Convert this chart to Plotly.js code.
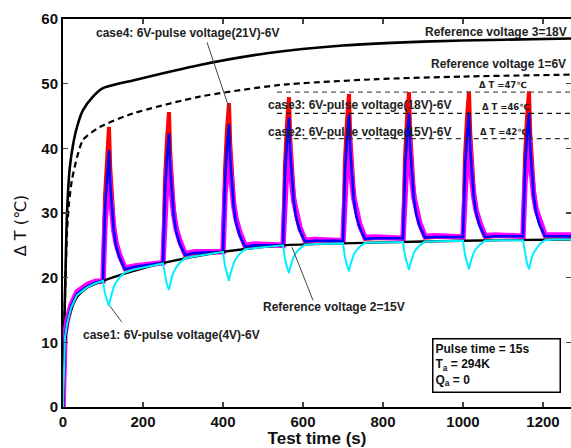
<!DOCTYPE html>
<html>
<head>
<meta charset="utf-8">
<script src="https://cdn.plot.ly/plotly-3.0.1.min.js"></script>
<style>html,body{margin:0;padding:0;background:#fff;}#chart{width:571px;height:448px;}</style>
</head>
<body>
<div id="chart"></div>
<script>
// Time axis (s) for the pulsed cases
var pulseTime = [0,2,5,10,20,35,60,80,
  100,105,110,115,118,122,127,133,142,155,180,
  250,255,260,265,268,272,277,283,292,305,330,
  400,405,410,415,418,422,427,433,442,455,480,
  550,555,560,565,568,572,577,583,592,605,630,
  700,705,710,715,718,722,727,733,742,755,780,
  850,855,860,865,868,872,877,883,892,905,930,
  1000,1005,1010,1015,1018,1022,1027,1033,1042,1055,1080,
  1150,1155,1160,1165,1168,1172,1177,1183,1192,1205,1230,
  1275];

// case4: 6V-pulse voltage(21V)-6V (red)
var case4 = [0,7,11,13,15.5,17.5,18.6,19.2,
  19.5,32.6,39.0,43.3,37.1,32.3,28.3,25.5,23.3,21.3,21.7,
  22.3,35.1,41.4,45.6,39.4,34.6,30.6,27.7,25.5,23.5,23.8,
  24.0,36.7,42.9,47.0,40.8,35.9,31.9,29.0,26.8,24.8,25.0,
  25.0,37.6,43.8,47.9,41.7,36.8,32.7,29.8,27.6,25.6,25.7,
  25.7,38.2,44.3,48.4,42.1,37.2,33.2,30.3,28.0,26.0,26.1,
  26.1,38.5,44.6,48.7,42.4,37.5,33.4,30.5,28.2,26.2,26.3,
  26.3,38.7,44.8,48.8,42.5,37.6,33.5,30.6,28.3,26.3,26.4,
  26.4,38.7,44.8,48.8,42.5,37.6,33.6,30.7,28.4,26.4,26.4,
  26.4];

// case3: 6V-pulse voltage(18V)-6V (blue)
var case3 = [0,7,11,13,15.5,17.5,18.6,19.2,
  19.5,30.6,36.1,39.7,34.5,30.5,27.2,24.8,23.0,21.3,21.7,
  22.3,33.3,38.7,42.3,37.0,32.9,29.5,27.1,25.2,23.5,23.8,
  24.0,34.8,40.2,43.7,38.4,34.3,30.8,28.4,26.5,24.8,25.0,
  25.0,35.9,41.2,44.8,39.4,35.2,31.7,29.2,27.3,25.6,25.7,
  25.7,36.4,41.7,45.2,39.8,35.6,32.1,29.6,27.7,26.0,26.1,
  26.1,36.7,41.9,45.4,40.0,35.8,32.3,29.8,27.9,26.2,26.3,
  26.3,36.9,42.0,45.5,40.1,35.9,32.4,29.9,28.0,26.3,26.4,
  26.4,36.9,42.1,45.5,40.2,36.0,32.5,30.0,28.1,26.4,26.4,
  26.4];

// case2: 6V-pulse voltage(15V)-6V (magenta)
var case2 = [0,7.2,11.3,13.3,15.8,17.8,18.9,19.4,
  19.5,28.7,33.2,36.2,33.0,30.0,27.4,25.3,23.4,21.5,21.8,
  22.3,31.4,35.8,38.8,35.5,32.5,29.7,27.6,25.7,23.7,24.0,
  24.0,32.9,37.3,40.2,36.9,33.8,31.1,29.0,27.0,25.0,25.2,
  25.0,33.8,38.1,41.0,37.7,34.6,31.9,29.8,27.8,25.8,25.9,
  25.7,34.3,38.6,41.4,38.1,35.0,32.3,30.2,28.2,26.2,26.3,
  26.1,34.6,38.8,41.6,38.3,35.2,32.5,30.4,28.4,26.4,26.5,
  26.3,34.7,38.8,41.6,38.3,35.3,32.5,30.4,28.5,26.5,26.6,
  26.4,34.8,38.9,41.6,38.3,35.3,32.6,30.5,28.6,26.6,26.6,
  26.6];

// case1: 6V-pulse voltage(4V)-6V (cyan)
var case1 = [0,6.8,10.8,12.8,15.3,17.3,18.5,19.1,
  19.5,17.5,16.4,15.6,16.6,17.7,18.6,19.3,20.1,20.8,21.3,
  22.2,20.2,18.9,18.1,19.1,20.1,20.9,21.6,22.3,23.0,23.3,
  24.0,21.8,20.4,19.5,20.5,21.5,22.3,23.0,23.7,24.4,24.6,
  25.0,22.9,21.6,20.7,21.6,22.5,23.3,23.9,24.5,25.1,25.2,
  25.3,23.2,21.9,21.0,21.9,22.8,23.6,24.2,24.8,25.4,25.4,
  25.5,23.4,22.1,21.2,22.1,23.0,23.8,24.4,25.0,25.6,25.6,
  25.7,23.5,22.2,21.3,22.2,23.1,23.9,24.5,25.1,25.7,25.8,
  25.8,23.6,22.2,21.3,22.2,23.1,23.9,24.5,25.2,25.8,25.9,
  25.9];

// Reference curves
var refTime3 = [0,3,6,10,17,25,35,50,75,100,175,342,510,700,900,1100,1275];
var ref3 = [0,12,20,30,37,40.5,43.3,45.9,48.0,49.3,50.5,52.9,54.7,55.9,56.5,56.8,57.0];

var refTime1 = [0,3,5,10,15,22,35,50,92,175,342,542,785,1000,1275];
var ref1 = [0,10,17,27,31.5,35,38.6,41.3,43.3,45.4,48.0,49.8,50.7,51.1,51.4];

var refTime2 = [0,2,5,10,20,35,60,100,175,260,400,550,700,900,1100,1275];
var ref2 = [0,6,10,12.5,15,17,18.5,19.5,21.0,22.4,24.0,25.0,25.3,25.6,25.8,25.9];

// Tick labels
var xTicks = [0,200,400,600,800,1000,1200];
var yTicks = [0,10,20,30,40,50,60];

// Peak marker levels (dashed guide lines)
var guideLevels = [48.7, 45.4, 41.5];
var guideLabels = ['\u0394 T =47\u2103', '\u0394 T =46\u2103', '\u0394 T =42\u2103'];

var traces = [
  {x: refTime3, y: ref3, mode:'lines', line:{color:'#000', width:2.6, shape:'spline', smoothing:0.6}},
  {x: refTime1, y: ref1, mode:'lines', line:{color:'#000', width:2.2, dash:'6px,4px', shape:'spline', smoothing:0.6}},
  {x: pulseTime, y: case4, mode:'lines', line:{color:'#ff0000', width:4}},
  {x: pulseTime, y: case2, mode:'lines', line:{color:'#ff00ff', width:5.5}},
  {x: pulseTime, y: case3, mode:'lines', line:{color:'#0000ff', width:2.6}},
  {x: refTime2, y: ref2, mode:'lines', line:{color:'#000', width:2.4, shape:'spline', smoothing:0.6}},
  {x: pulseTime, y: case1, mode:'lines', line:{color:'#00f0ff', width:2}}
];

var lblFont = {family:'Liberation Sans, Arial, sans-serif', size:12, color:'#222', weight:'bold'};
var smallFont = {family:'DejaVu Sans, Liberation Sans, sans-serif', size:8.5, color:'#222', weight:'bold'};

var annotations = [
  {x:312, y:57.8, xref:'x', yref:'y', text:'case4: 6V-pulse voltage(21V)-6V', showarrow:false, font:lblFont},
  {x:272, y:11.1, xref:'x', yref:'y', text:'case1: 6V-pulse voltage(4V)-6V', showarrow:false, font:lblFont},
  {x:678, y:15.5, xref:'x', yref:'y', text:'Reference voltage 2=15V', showarrow:false, font:lblFont},
  {x:1265, y:58.0, xref:'x', yref:'y', xanchor:'right', text:'Reference voltage 3=18V', showarrow:false, font:lblFont},
  {x:1262, y:53.0, xref:'x', yref:'y', xanchor:'right', text:'Reference voltage 1=6V', showarrow:false, font:lblFont},
  {x:507, y:46.7, xref:'x', yref:'y', xanchor:'left', text:'case3: 6V-pulse voltage(18V)-6V', showarrow:false, font:lblFont},
  {x:507, y:42.5, xref:'x', yref:'y', xanchor:'left', text:'case2: 6V-pulse voltage(15V)-6V', showarrow:false, font:lblFont},
  {x:1035, y:49.8, xref:'x', yref:'y', xanchor:'left', text:guideLabels[0], showarrow:false, font:smallFont},
  {x:1042, y:46.4, xref:'x', yref:'y', xanchor:'left', text:guideLabels[1], showarrow:false, font:smallFont},
  {x:1037, y:42.5, xref:'x', yref:'y', xanchor:'left', text:guideLabels[2], showarrow:false, font:smallFont},
  {x:0.853, y:0.108, xref:'paper', yref:'paper', xanchor:'center', yanchor:'middle',
   text:'Pulse time = 15s<br>T<sub>a</sub> = 294K<br>Q<sub>a</sub> = 0', showarrow:false,
   align:'left', valign:'top', width:122, height:48, bordercolor:'#000', borderwidth:1.5, borderpad:2, bgcolor:'#fff',
   font:{family:'Liberation Sans, Arial, sans-serif', size:12, color:'#111', weight:'bold'}},
  {x:-0.0846, y:0.466, xref:'paper', yref:'paper', xanchor:'center', yanchor:'middle', textangle:-90,
   text:'\u0394 T (\u2103)', showarrow:false,
   font:{family:'DejaVu Sans, Liberation Sans, sans-serif', size:16, color:'#111'}}
];

var shapes = [
  {type:'line', xref:'x', yref:'y', x0:360, y0:56.4, x1:417, y1:45.9, line:{color:'#444', width:1}},
  {type:'line', xref:'x', yref:'y', x0:117.5, y0:15.6, x1:147.5, y1:13.1, line:{color:'#444', width:1}},
  {type:'line', xref:'x', yref:'y', x0:572.5, y0:24.7, x1:625, y1:16.5, line:{color:'#444', width:1}},
  {type:'line', xref:'x', yref:'y', x0:535, y0:guideLevels[0], x1:1275, y1:guideLevels[0], line:{color:'#555', width:1.2, dash:'5px,4px'}},
  {type:'line', xref:'x', yref:'y', x0:535, y0:guideLevels[1], x1:1275, y1:guideLevels[1], line:{color:'#111', width:1.2, dash:'5px,4px'}},
  {type:'line', xref:'x', yref:'y', x0:532, y0:guideLevels[2], x1:1275, y1:guideLevels[2], line:{color:'#333', width:1.2, dash:'5px,4px'}}
];

var tickFont = {family:'Liberation Sans, Arial, sans-serif', size:15, color:'#111', weight:'bold'};

var layout = {
  width:571, height:448,
  margin:{l:63, r:0, t:19, b:41, pad:0},
  paper_bgcolor:'#fff', plot_bgcolor:'#fff',
  showlegend:false,
  xaxis:{range:[0,1270], tickvals:xTicks, ticktext:xTicks.map(String), ticks:'inside', ticklen:5, tickwidth:1.5,
    showline:true, linewidth:2, linecolor:'#000', mirror:'ticks', showgrid:false, zeroline:false,
    tickfont:tickFont,
    title:{text:'Test time (s)', font:{family:'Liberation Sans, Arial, sans-serif', size:17, color:'#111', weight:'bold'}, standoff:2}},
  yaxis:{range:[0,60], tickvals:yTicks, ticktext:yTicks.map(String), ticks:'inside', ticklen:5, tickwidth:1.5,
    showline:true, linewidth:2, linecolor:'#000', mirror:'ticks', showgrid:false, zeroline:false,
    tickfont:tickFont},
  annotations:annotations,
  shapes:shapes
};

Plotly.newPlot('chart', traces, layout, {displayModeBar:false, staticPlot:true});
</script>
</body>
</html>
